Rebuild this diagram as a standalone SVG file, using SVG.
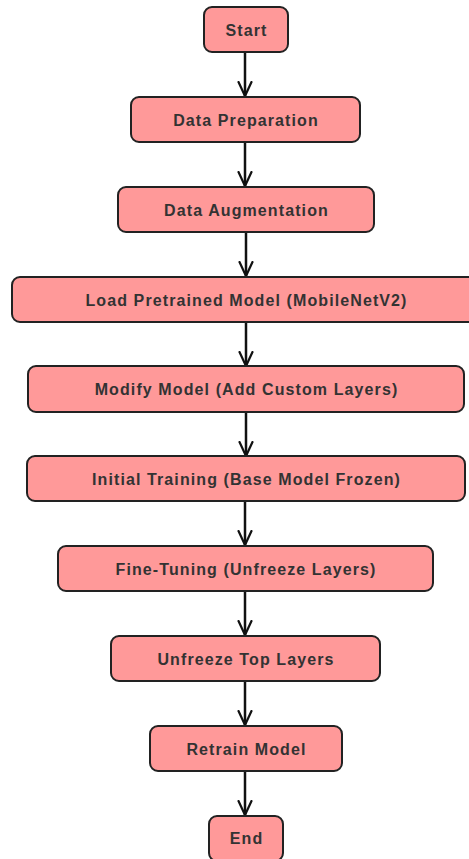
<svg xmlns="http://www.w3.org/2000/svg" width="469" height="859" viewBox="0 0 469 859">
<defs>
<marker id="arr" markerWidth="16" markerHeight="16" refX="15" refY="8" orient="auto" markerUnits="userSpaceOnUse" viewBox="0 0 16 16">
<path d="M1,1.5 L15,8 L1,14.5" fill="none" stroke="#111" stroke-width="2.2" stroke-linecap="round" stroke-linejoin="round"/>
</marker>
</defs>
<style>
.box{fill:#ff9999;stroke:#222;stroke-width:2}
.lbl{font-family:"Liberation Sans",Arial,sans-serif;font-size:16px;font-weight:bold;letter-spacing:1.1px;fill:#333;text-anchor:middle;dominant-baseline:central}
.edge{stroke:#111;stroke-width:2.5;fill:none}
</style>
<rect width="469" height="859" fill="#ffffff"/>
<g id="edges">
<line class="edge" x1="245" y1="52" x2="245" y2="96" marker-end="url(#arr)"/>
<line class="edge" x1="245" y1="142" x2="245" y2="186" marker-end="url(#arr)"/>
<line class="edge" x1="246" y1="232" x2="246" y2="276" marker-end="url(#arr)"/>
<line class="edge" x1="246" y1="322" x2="246" y2="366" marker-end="url(#arr)"/>
<line class="edge" x1="246" y1="412" x2="246" y2="456" marker-end="url(#arr)"/>
<line class="edge" x1="245" y1="501" x2="245" y2="545" marker-end="url(#arr)"/>
<line class="edge" x1="245" y1="591" x2="245" y2="635" marker-end="url(#arr)"/>
<line class="edge" x1="245" y1="681" x2="245" y2="725" marker-end="url(#arr)"/>
<line class="edge" x1="245" y1="771" x2="245" y2="815" marker-end="url(#arr)"/>
</g>
<g id="start"><rect class="box" x="204" y="7" width="84" height="45" rx="8"/><text class="lbl" x="246.5" y="30">Start</text></g>
<g id="prep"><rect class="box" x="131" y="97" width="229" height="45" rx="8"/><text class="lbl" x="246" y="120">Data Preparation</text></g>
<g id="aug"><rect class="box" x="118" y="187" width="256" height="45" rx="8"/><text class="lbl" x="246.5" y="210">Data Augmentation</text></g>
<g id="load"><rect class="box" x="12" y="277" width="468" height="45" rx="8"/><text class="lbl" x="246.5" y="300">Load Pretrained Model (MobileNetV2)</text></g>
<g id="modify"><rect class="box" x="28" y="366" width="436" height="46" rx="8"/><text class="lbl" x="246.5" y="389">Modify Model (Add Custom Layers)</text></g>
<g id="initial"><rect class="box" x="27" y="456" width="438" height="45" rx="8"/><text class="lbl" x="246.5" y="479">Initial Training (Base Model Frozen)</text></g>
<g id="fine"><rect class="box" x="58" y="546" width="375" height="45" rx="8"/><text class="lbl" x="246" y="569">Fine-Tuning (Unfreeze Layers)</text></g>
<g id="unfreeze"><rect class="box" x="111" y="636" width="269" height="45" rx="8"/><text class="lbl" x="246" y="659">Unfreeze Top Layers</text></g>
<g id="retrain"><rect class="box" x="150" y="726" width="192" height="45" rx="8"/><text class="lbl" x="246.5" y="749">Retrain Model</text></g>
<g id="end"><rect class="box" x="209" y="816" width="74" height="45" rx="8"/><text class="lbl" x="246.5" y="838">End</text></g>
</svg>
